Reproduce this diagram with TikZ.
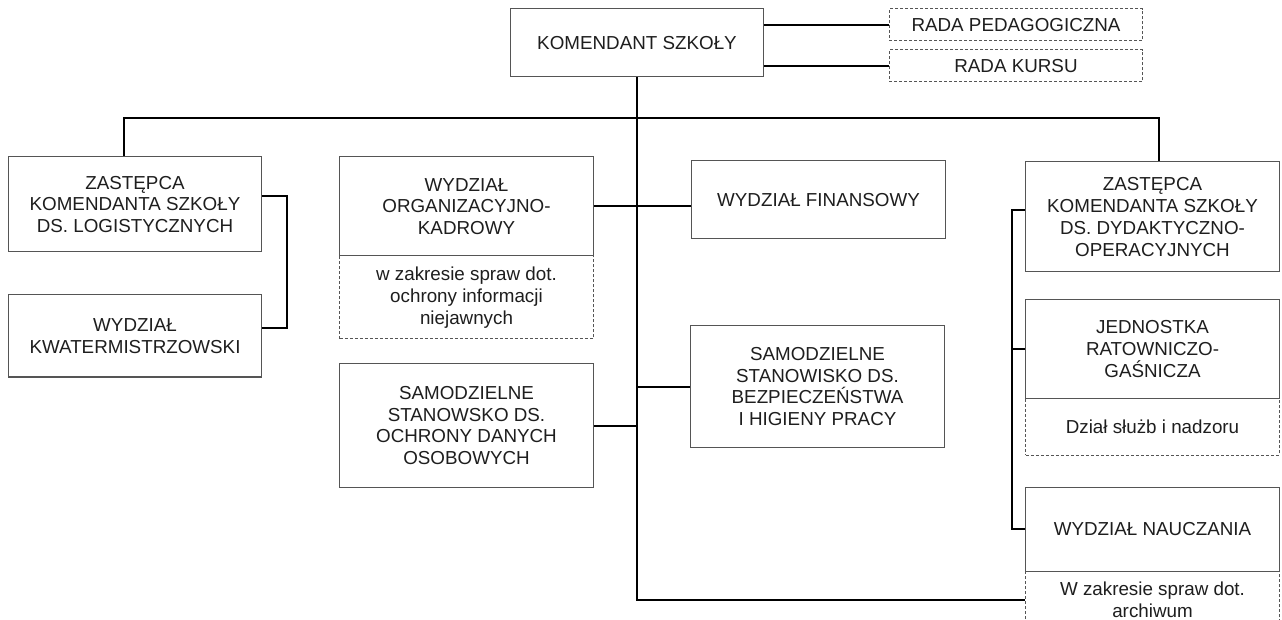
\documentclass[tikz,border=0pt]{standalone}
\usepackage{fontspec}
\setmainfont{Liberation Sans}
\usepackage{tikz}
\definecolor{boxgray}{RGB}{85,85,85}
\definecolor{textgray}{RGB}{30,30,30}
\pgfdeclarelayer{edgelayer}
\pgfdeclarelayer{nodelayer}
\pgfsetlayers{edgelayer,nodelayer,main}
\tikzstyle{unit}=[rectangle,fill=white,draw=boxgray,line width=0.75pt,inner sep=0pt,minimum width=190pt,align=center,text=textgray,font=\fontsize{14.1}{16.3}\selectfont]
\tikzstyle{extra}=[unit,dash pattern=on 2.25pt off 1.5pt]
\tikzstyle{link}=[line width=1.5pt,black]

\begin{document}
\begin{tikzpicture}[x=0.75pt,y=-0.75pt]
        \useasboundingbox (0, 0) rectangle (1282, 620);
        \begin{pgfonlayer}{nodelayer}
            \node [style = unit, minimum height=51pt] (kom) at (637, 43) {KOMENDANT SZKOŁY};
            \node [style = extra, minimum height=24pt] (radaped) at (1016, 25) {RADA PEDAGOGICZNA};
            \node [style = extra, minimum height=24pt] (radakurs) at (1016, 66) {RADA KURSU};

            \node [style = unit, minimum height=71.25pt] (zlog) at (135, 204.5) {ZASTĘPCA\\KOMENDANTA SZKOŁY\\DS. LOGISTYCZNYCH};
            \node [style = unit, minimum height=61.5pt] (kwat) at (135, 336) {WYDZIAŁ\\KWATERMISTRZOWSKI};

            \node [style = extra, minimum height=62.25pt] (orgx) at (466.5, 297.5) {w zakresie spraw dot.\\ochrony informacji\\niejawnych};
            \node [style = unit, minimum height=74.25pt] (org) at (466.5, 206.5) {WYDZIAŁ\\ORGANIZACYJNO-\\KADROWY};
            \node [style = unit, minimum height=92.25pt] (odo) at (466.5, 425.5) {SAMODZIELNE\\STANOWSKO DS.\\OCHRONY DANYCH\\OSOBOWYCH};

            \node [style = unit, minimum height=58.5pt] (fin) at (818.5, 200) {WYDZIAŁ FINANSOWY};
            \node [style = unit, minimum height=90.75pt] (bhp) at (817.5, 386.5) {SAMODZIELNE\\STANOWISKO DS.\\BEZPIECZEŃSTWA\\I HIGIENY PRACY};

            \node [style = unit, minimum height=82.5pt] (zdyd) at (1152.5, 217) {ZASTĘPCA\\KOMENDANTA SZKOŁY\\DS. DYDAKTYCZNO-\\OPERACYJNYCH};
            \node [style = extra, minimum height=42.75pt] (jrgx) at (1152.5, 426.5) {Dział służb i nadzoru};
            \node [style = unit, minimum height=73.5pt] (jrg) at (1152.5, 349) {JEDNOSTKA\\RATOWNICZO-\\GAŚNICZA};
            \node [style = extra, minimum height=43.5pt] (nauczx) at (1152.5, 600) {W zakresie spraw dot.\\archiwum};
            \node [style = unit, minimum height=63pt] (naucz) at (1152.5, 529) {WYDZIAŁ NAUCZANIA};
        \end{pgfonlayer}

        \begin{pgfonlayer}{edgelayer}
            \coordinate (busl) at (124, 118);
            \coordinate (busr) at (1159, 118);

            \draw [style = link] (kom.east |- radaped.west) to (radaped.west);
            \draw [style = link] (kom.east |- radakurs.west) to (radakurs.west);

            \draw [style = link] (busl |- zlog.north) -- (busl) -- (busr) -- (busr |- zdyd.north);
            \draw [style = link] (kom.south) |- (nauczx.west);

            \draw [style = link] ([yshift=6pt]zlog.east) -- ++(25, 0) |- ([yshift=6pt]kwat.east);

            \draw [style = link] (org.east) to (org.east -| fin.west);
            \draw [style = link] (odo.east) to (odo.east -| kom.south);
            \draw [style = link] (bhp.west) to (bhp.west -| kom.south);

            \draw [style = link] ([yshift=5pt]zdyd.west) -- ++(-13, 0) |- (naucz.west);
            \draw [style = link] (jrg.west) -- ++(-13, 0);
        \end{pgfonlayer}
    \end{tikzpicture}
\end{document}
